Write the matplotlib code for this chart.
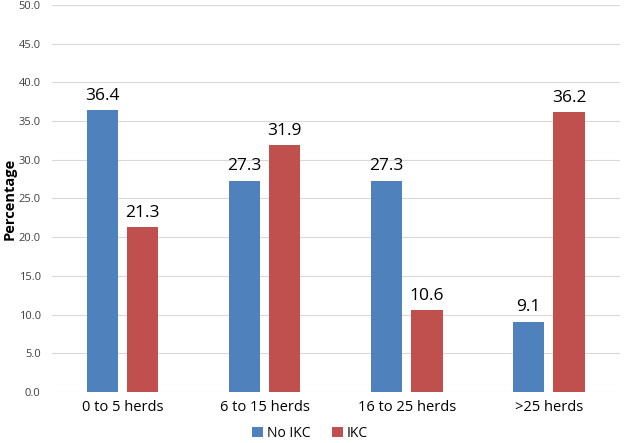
import numpy as np
import matplotlib.pyplot as plt

categories = ["0 to 5 herds", "6 to 15 herds", "16 to 25 herds", ">25 herds"]
no_ikc = [36.4, 27.3, 27.3, 9.1]
ikc = [21.3, 31.9, 10.6, 36.2]

plt.rcParams['font.family'] = ['Open Sans', 'DejaVu Sans']

fig = plt.figure(figsize=(6.24, 4.43), dpi=100)
ax = fig.add_axes([0.083, 0.115, 0.911, 0.874])

x = np.arange(len(categories))
w = 0.22
b1 = ax.bar(x - 0.145, no_ikc, w, color="#4F81BD", label="No IKC", zorder=3)
b2 = ax.bar(x + 0.14, ikc, w, color="#C0504D", label="IKC", zorder=3)

for bars, vals in [(b1, no_ikc), (b2, ikc)]:
    for b, v in zip(bars, vals):
        ax.text(b.get_x() + b.get_width() / 2, v + 0.8, "{:.1f}".format(v),
                ha="center", va="bottom", fontsize=12.5, color="#000000")

ax.set_xlim(-0.5, 3.5)
ax.set_ylim(0, 50)
ax.set_yticks(np.arange(0, 50.1, 5))
ax.set_yticklabels(["{:.1f}".format(t) for t in np.arange(0, 50.1, 5)])
ax.set_xticks(x)
ax.set_xticklabels(categories)
ax.tick_params(axis="y", length=0, labelsize=8, labelcolor="#404040", pad=8)
ax.tick_params(axis="x", length=0, labelsize=10.5, labelcolor="#000000", pad=6)
ax.grid(axis="y", color="#D9D9D9", linewidth=0.8, zorder=0)
for s in ax.spines.values():
    s.set_visible(False)
ax.set_ylabel("Percentage", fontsize=10.5, fontweight="bold")
ax.yaxis.set_label_coords(-0.062, 0.5)

fig.legend(handles=[b1, b2], loc="center", bbox_to_anchor=(0.497, 0.022), ncol=2,
           frameon=False, fontsize=10, handlelength=0.8, handleheight=0.8,
           handletextpad=0.3, columnspacing=1.5, borderpad=0.1)

fig.savefig("out.png", dpi=100)
